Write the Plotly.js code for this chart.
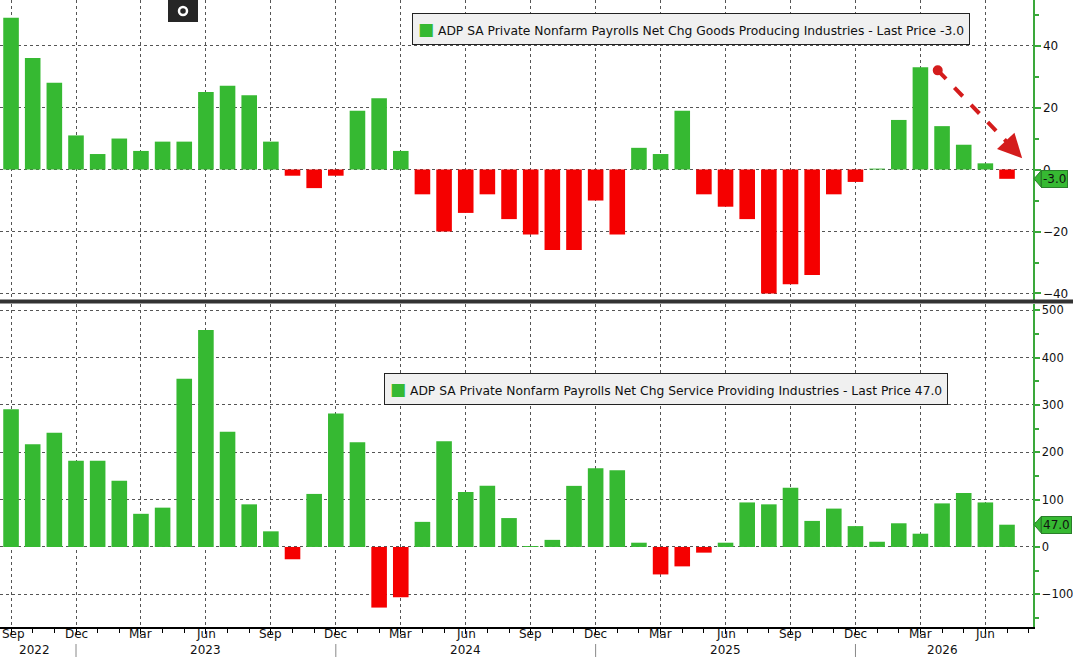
<!DOCTYPE html>
<html>
<head>
<meta charset="utf-8">
<script src="https://cdn.plot.ly/plotly-3.0.1.min.js"></script>
<style>
  html, body { margin: 0; padding: 0; background: #fff; }
  #chart { width: 1073px; height: 657px; }
</style>
</head>
<body>
<div id="chart"></div>
<script>
// monthly data, Sep 2022 .. Jul 2026
var months = ['2022-09','2022-10','2022-11','2022-12',
  '2023-01','2023-02','2023-03','2023-04','2023-05','2023-06','2023-07','2023-08','2023-09','2023-10','2023-11','2023-12',
  '2024-01','2024-02','2024-03','2024-04','2024-05','2024-06','2024-07','2024-08','2024-09','2024-10','2024-11','2024-12',
  '2025-01','2025-02','2025-03','2025-04','2025-05','2025-06','2025-07','2025-08','2025-09','2025-10','2025-11','2025-12',
  '2026-01','2026-02','2026-03','2026-04','2026-05','2026-06','2026-07'];

// goods producing industries, net change (k)
var goods = [49,36,28,11,5,10,6,9,9,25,27,24,9,-2,-6,-2,19,23,6,-8,-20,-14,-8,-16,-21,-26,-26,-10,-21,7,5,19,-8,-12,-16,-40,-37,-34,-8,-4,0.3,16,33,14,8,2,-3];
// service providing industries, net change (k)
var services = [291,217,241,182,182,140,70,83,355,458,243,90,33,-26,112,282,221,-128,-106,53,223,116,129,61,2,15,129,166,162,9,-58,-41,-12,9,94,90,125,55,81,44,11,50,28,92,114,94,47];

var monthAbbr = ['Jan','Feb','Mar','Apr','May','Jun','Jul','Aug','Sep','Oct','Nov','Dec'];
var goodsName = 'ADP SA Private Nonfarm Payrolls Net Chg Goods Producing Industries - Last Price -3.0';
var servName = 'ADP SA Private Nonfarm Payrolls Net Chg Service Providing Industries - Last Price 47.0';

var GREEN = '#36b932';
var RED = '#f50000';
var FONT = 'DejaVu Sans, Verdana, sans-serif';

var xs = months.map(function(m, i) { return i; });
var tickIdx = xs.filter(function(i) { return [3,6,9,12].indexOf(+months[i].slice(5)) >= 0; });
var tickTxt = tickIdx.map(function(i) { return monthAbbr[+months[i].slice(5) - 1]; });

function colorsOf(vals) {
  return vals.map(function(v) { return v >= 0 ? GREEN : RED; });
}

var data = [
  { type: 'bar', x: xs, y: goods, xaxis: 'x', yaxis: 'y',
    marker: { color: colorsOf(goods), line: { width: 0 } }, hoverinfo: 'none' },
  { type: 'bar', x: xs, y: services, xaxis: 'x2', yaxis: 'y2',
    marker: { color: colorsOf(services), line: { width: 0 } }, hoverinfo: 'none' }
];

// plot area is 1033 x 627 px
var PW = 1033, PH = 627;
function px(x) { return x / PW; }
function py(y) { return (PH - y) / PH; }

var grid = { showgrid: true, gridcolor: '#555', griddash: 'dot', gridwidth: 1 };
var xr = [-0.51, 47.2];
var tickFont = { family: FONT, size: 12, color: '#111' };

var layout = {
  width: 1073, height: 657,
  margin: { l: 0, r: 40, t: 0, b: 30 },
  paper_bgcolor: '#fff', plot_bgcolor: '#fff',
  showlegend: false, bargap: 0.28,
  font: { family: FONT, size: 12, color: '#111' },
  xaxis: Object.assign({ anchor: 'y', range: xr, tickvals: tickIdx, showticklabels: false,
    ticks: '', zeroline: false, showline: false }, grid),
  xaxis2: Object.assign({ anchor: 'y2', range: xr, tickvals: tickIdx, showticklabels: false,
    ticks: 'outside', ticklen: 5, tickcolor: '#000', showline: true, linecolor: '#000', linewidth: 1.5,
    zeroline: false,
    minor: { tick0: 0, dtick: 1, ticks: 'outside', ticklen: 4, tickcolor: '#000', showgrid: false } }, grid),
  yaxis: Object.assign({ domain: [py(300), 1], side: 'right', range: [-42.1, 54.7], tick0: 0, dtick: 20,
    ticks: 'outside', ticklen: 6, tickwidth: 2, tickcolor: '#3aa83a', showline: true, linecolor: '#3aa83a',
    linewidth: 1.5, zeroline: false, tickfont: tickFont,
    minor: { dtick: 10, ticks: 'outside', ticklen: 4, tickcolor: '#3aa83a', showgrid: false } }, grid),
  yaxis2: Object.assign({ domain: [0, py(304)], side: 'right', range: [-169, 513], tick0: 0, dtick: 100,
    ticks: 'outside', ticklen: 5, tickwidth: 2, tickcolor: '#3aa83a', showline: true, linecolor: '#3aa83a',
    linewidth: 1.5, zeroline: false, tickfont: { family: FONT, size: 11.5, color: '#111' },
    minor: { dtick: 50, ticks: 'outside', ticklen: 4, tickcolor: '#3aa83a', showgrid: false } }, grid),
  shapes: [],
  annotations: []
};

// panel separator
layout.shapes.push({ type: 'line', xref: 'paper', yref: 'paper', x0: 0, x1: 1073 / PW, y0: py(301.5), y1: py(301.5),
  line: { color: '#333', width: 4 } });

// small dark icon at top
layout.shapes.push({ type: 'rect', xref: 'paper', yref: 'paper', x0: px(168), x1: px(198), y0: py(22), y1: 1,
  fillcolor: '#262626', line: { width: 0 } });
layout.shapes.push({ type: 'circle', xref: 'paper', yref: 'paper', xsizemode: 'pixel', ysizemode: 'pixel',
  xanchor: px(183), yanchor: py(11), x0: -4, x1: 4, y0: -4, y1: 4,
  fillcolor: '#262626', line: { color: '#fff', width: 2.5 } });

// month labels under the axis
tickIdx.forEach(function(i, k) {
  layout.annotations.push({ xref: 'x2', yref: 'paper', x: i, y: py(634), text: tickTxt[k], showarrow: false,
    xanchor: i === 0 ? 'left' : 'center', xshift: i === 0 ? -11 : 0, yanchor: 'middle', font: tickFont });
});

// year labels and separators under the month labels
var years = [];
months.forEach(function(m, i) {
  var yr = m.slice(0, 4);
  if (years.indexOf(yr) < 0) years.push(yr);
  if (m.slice(5) === '12') {
    layout.shapes.push({ type: 'line', xref: 'x2', yref: 'paper', x0: i, x1: i, y0: py(644), y1: py(660),
      line: { color: '#888', width: 1 } });
  }
});
years.forEach(function(yr) {
  var idx = xs.filter(function(i) { return months[i].slice(0, 4) === yr; });
  var mid = (idx[0] + idx[idx.length - 1]) / 2;
  if (idx.length === 12) mid -= 0.5;
  if (idx[0] === 0) mid -= 0.4;
  layout.annotations.push({ xref: 'x2', yref: 'paper', x: mid, y: py(650), text: yr, showarrow: false,
    xanchor: 'center', yanchor: 'middle', font: tickFont });
});

// legend boxes
function legendBox(name, xPx, yPx) {
  return { xref: 'paper', yref: 'paper', x: px(xPx), y: py(yPx), xanchor: 'left', yanchor: 'top',
    text: '<span style="color:' + GREEN + ';font-size:17px">\u25A0</span> ' + name,
    showarrow: false, align: 'left', bgcolor: '#f0f0f0', bordercolor: '#222', borderwidth: 1, borderpad: 5,
    font: { family: FONT, size: 12.3, color: '#111' } };
}
layout.annotations.push(legendBox(goodsName, 412, 13));
layout.annotations.push(legendBox(servName, 384, 373));

// last price tags
function lastTag(val, yref, half) {
  layout.shapes.push({ type: 'path', xref: 'paper', yref: yref,
    path: 'M ' + (1 + 1 / PW) + ' ' + val + ' L ' + (1 + 8 / PW) + ' ' + (val + half) + ' L ' + (1 + 8 / PW) + ' ' + (val - half) + ' Z',
    fillcolor: GREEN, line: { color: '#2a7f2a', width: 1 } });
  layout.annotations.push({ xref: 'paper', yref: yref, x: 1 + 8 / PW, y: val, xanchor: 'left', yanchor: 'middle',
    text: val.toFixed(1), showarrow: false, bgcolor: GREEN, bordercolor: '#2a7f2a', borderwidth: 1, borderpad: 1,
    font: { family: FONT, size: 12, color: '#111' } });
}
lastTag(goods[goods.length - 1], 'y', 2.6);
lastTag(services[services.length - 1], 'y2', 17);

// red dashed arrow in the top panel
layout.shapes.push({ type: 'line', xref: 'x', yref: 'y', x0: 42.8, y0: 32, x1: 46.2, y1: 7.4,
  line: { color: '#d41c1c', width: 4, dash: 'dash' } });
layout.shapes.push({ type: 'circle', xref: 'x', yref: 'y', xsizemode: 'pixel', ysizemode: 'pixel',
  xanchor: 42.8, yanchor: 32, x0: -5, x1: 5, y0: -5, y1: 5, fillcolor: '#d41c1c', line: { width: 0 } });
layout.annotations.push({ xref: 'x', yref: 'y', x: 46.7, y: 3.6, ax: -16, ay: -17, text: '',
  showarrow: true, arrowhead: 2, arrowsize: 1.2, arrowwidth: 4, arrowcolor: '#d41c1c' });

Plotly.newPlot('chart', data, layout, { displayModeBar: false, staticPlot: true });
</script>
</body>
</html>
